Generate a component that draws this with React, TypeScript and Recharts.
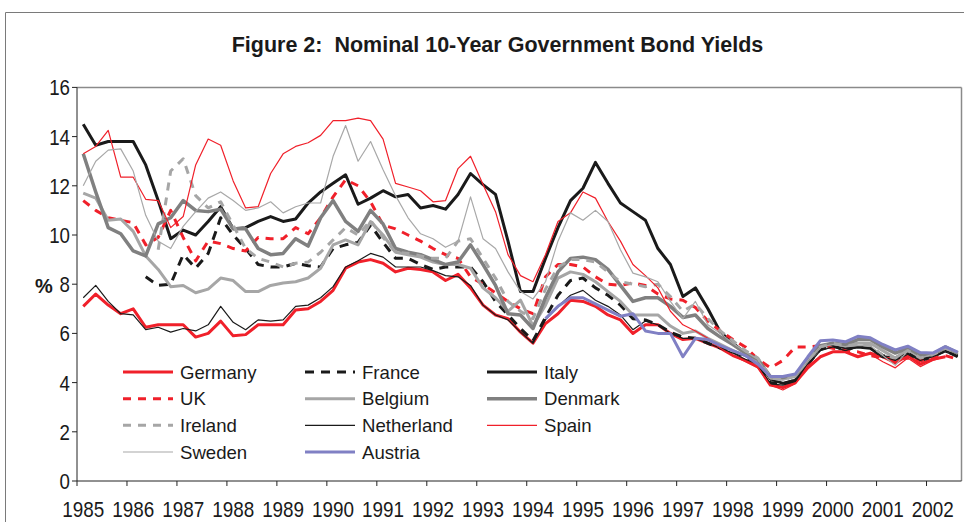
import { LineChart, Line, XAxis, YAxis, ReferenceLine } from 'recharts';

// year labels under the x axis, one per 4 quarters (1985Q1 .. 2002Q3)
const YEARS = ['1985', '1986', '1987', '1988', '1989', '1990', '1991', '1992', '1993', '1994', '1995', '1996', '1997', '1998', '1999', '2000', '2001', '2002'];
const Y_TICKS = [0, 2, 4, 6, 8, 10, 12, 14, 16];

// quarterly yields, %
const germany = [7.1, 7.6, 7.15, 6.8, 7.0, 6.25, 6.35, 6.35, 6.35, 5.85, 6.0, 6.5, 5.9, 5.95, 6.35, 6.35, 6.35, 6.95, 7.0, 7.3, 7.75, 8.65, 8.9, 9.0, 8.85, 8.5, 8.65, 8.6, 8.5, 8.15, 8.4, 7.85, 7.15, 6.75, 6.6, 6.05, 5.6, 6.4, 6.8, 7.35, 7.3, 7.1, 6.75, 6.55, 6.0, 6.35, 6.35, 6.0, 5.75, 5.8, 5.6, 5.4, 5.1, 4.9, 4.65, 3.9, 3.8, 4.0, 4.6, 5.05, 5.25, 5.25, 5.05, 5.2, 5.05, 4.8, 5.1, 4.75, 4.95, 5.05];
const france = [8.3, 7.95, 8.0, 9.2, 8.65, 9.25, 10.7, 10.0, 9.45, 8.8, 8.7, 8.7, 8.85, 8.75, 8.7, 9.45, 9.6, 9.7, 10.4, 9.7, 9.05, 9.05, 8.8, 8.6, 8.7, 8.7, 8.7, 8.1, 7.3, 6.75, 6.2, 5.7, 6.65, 7.55, 8.15, 8.25, 7.85, 7.55, 7.15, 6.6, 6.55, 6.35, 6.05, 5.85, 5.8, 5.6, 5.4, 5.25, 5.05, 4.8, 4.0, 3.95, 4.1, 4.75, 5.35, 5.5, 5.3, 5.5, 5.45, 5.1, 4.95, 5.2, 4.9, 5.05, 5.3, 5.05];
const italy = [14.5, 13.65, 13.8, 13.8, 13.8, 12.85, 11.4, 9.85, 10.2, 10.0, 10.55, 11.15, 10.25, 10.3, 10.55, 10.75, 10.55, 10.65, 11.3, 11.75, 12.1, 12.45, 11.25, 11.5, 11.8, 11.55, 11.65, 11.1, 11.2, 11.05, 11.65, 12.5, 12.05, 11.65, 9.75, 7.7, 7.7, 9.05, 10.3, 11.4, 11.9, 12.95, 12.1, 11.3, 10.95, 10.6, 9.45, 8.8, 7.5, 7.85, 7.0, 6.05, 5.6, 5.2, 4.9, 4.15, 3.97, 4.1, 4.8, 5.45, 5.55, 5.4, 5.45, 5.4, 5.05, 5.0, 5.25, 4.92, 5.1, 5.33, 5.12];
const uk = [11.4, 11.0, 10.7, 10.6, 10.5, 9.6, 9.9, 11.0, 9.9, 8.95, 9.75, 9.65, 9.45, 9.35, 9.9, 9.85, 9.85, 10.3, 10.05, 10.7, 11.55, 12.25, 12.0, 11.35, 10.4, 10.25, 10.0, 9.75, 9.45, 9.2, 9.05, 8.3, 8.0, 7.65, 7.3, 7.0, 6.8, 8.3, 8.8, 8.8, 8.7, 8.3, 8.0, 7.95, 8.05, 7.95, 7.6, 7.4, 7.35, 7.05, 6.5, 6.1, 5.75, 5.45, 4.95, 4.6, 4.9, 5.45, 5.45, 5.5, 5.4, 5.3, 5.25, 5.1, 5.0, 4.95, 5.0, 4.9, 5.0, 5.1, 4.95];
const belgium = [11.7, 11.5, 10.6, 10.65, 10.15, 9.15, 8.6, 7.9, 7.95, 7.65, 7.8, 8.25, 8.15, 7.7, 7.7, 7.95, 8.05, 8.1, 8.25, 8.65, 9.6, 9.8, 9.6, 10.55, 10.0, 9.3, 9.2, 9.1, 8.9, 8.8, 8.8, 8.65, 7.85, 7.45, 6.9, 7.35, 6.3, 7.15, 8.25, 8.5, 8.4, 8.1, 7.7, 7.3, 6.75, 6.75, 6.75, 6.3, 6.0, 6.1, 5.8, 5.55, 5.3, 5.1, 4.85, 4.2, 4.15, 4.25, 4.9, 5.45, 5.6, 5.5, 5.6, 5.6, 5.3, 5.0, 5.35, 5.05, 5.15, 5.4, 5.2];
const denmark = [13.3, 11.75, 10.3, 10.05, 9.35, 9.15, 10.45, 10.7, 11.4, 11.0, 10.95, 11.05, 10.25, 10.25, 9.45, 9.2, 9.25, 9.85, 9.55, 10.7, 11.4, 10.55, 10.15, 11.0, 10.45, 9.45, 9.3, 9.2, 9.0, 8.8, 8.9, 9.6, 8.8, 7.95, 6.8, 6.75, 6.2, 7.45, 8.5, 9.05, 9.1, 9.0, 8.6, 7.95, 7.3, 7.45, 7.45, 7.1, 6.65, 6.75, 6.2, 5.85, 5.55, 5.2, 4.95, 4.25, 4.2, 4.3, 4.95, 5.5, 5.6, 5.55, 5.75, 5.75, 5.45, 5.2, 5.4, 5.1, 5.15, 5.45, 5.2];
const ireland = [9.4, 12.6, 13.1, 11.6, 11.1, 11.35, 10.4, 9.45, 9.05, 8.9, 8.7, 8.85, 8.9, 9.3, 9.8, 10.3, 10.0, 10.6, 9.9, 9.3, 9.25, 9.15, 9.05, 9.05, 9.75, 9.85, 9.05, 8.25, 7.3, 6.9, 6.6, 7.8, 8.7, 9.0, 9.0, 8.9, 8.5, 8.1, 8.0, 7.9, 8.0, 7.5, 6.9, 7.2, 6.6, 6.1, 5.7, 5.3, 5.0, 4.2, 4.1, 4.3, 4.9, 5.45, 5.6, 5.5, 5.55, 5.5, 5.1, 5.0, 5.3, 5.0, 5.1, 5.4, 5.2];
const netherland = [7.45, 7.95, 7.3, 6.8, 6.75, 6.15, 6.25, 6.05, 6.2, 6.1, 6.35, 7.1, 6.45, 6.15, 6.55, 6.5, 6.55, 7.1, 7.15, 7.45, 7.9, 8.7, 8.95, 9.25, 9.1, 8.7, 8.7, 8.7, 8.55, 8.35, 8.3, 7.95, 7.15, 6.75, 6.55, 6.05, 5.6, 6.55, 7.1, 7.55, 7.75, 7.35, 7.1, 6.75, 6.15, 6.5, 6.35, 6.0, 5.8, 5.8, 5.6, 5.4, 5.2, 4.95, 4.75, 3.95, 3.9, 4.05, 4.7, 5.3, 5.45, 5.3, 5.45, 5.4, 5.05, 4.9, 5.15, 4.9, 5.05, 5.25, 5.05];
const spain = [13.3, 13.6, 14.25, 12.35, 12.35, 11.45, 11.4, 10.3, 10.75, 12.85, 13.9, 13.65, 12.2, 11.1, 11.15, 12.5, 13.3, 13.6, 13.75, 14.05, 14.65, 14.65, 14.75, 14.65, 13.9, 12.1, 11.95, 11.8, 11.35, 11.4, 12.7, 13.2, 12.05, 10.95, 9.2, 8.35, 8.1, 9.2, 10.55, 10.9, 11.75, 11.5, 10.55, 9.75, 8.8, 8.35, 7.85, 6.9, 6.35, 6.1, 5.8, 5.4, 5.1, 4.85, 4.6, 3.9, 3.7, 3.95, 4.7, 5.05, 5.25, 5.25, 5.1, 5.15, 4.85, 4.6, 5.0, 4.65, 4.9, 5.05];
const sweden = [12.0, 13.0, 13.45, 13.5, 12.6, 10.8, 9.75, 9.45, 10.35, 10.95, 11.5, 11.75, 11.4, 11.0, 11.1, 11.35, 10.9, 11.15, 11.3, 11.3, 13.2, 14.45, 13.0, 13.8, 12.65, 11.6, 10.7, 10.05, 9.85, 9.5, 9.75, 11.55, 9.85, 9.45, 8.5, 7.7, 7.4, 8.1, 9.75, 10.9, 10.6, 11.0, 10.55, 9.4, 8.45, 8.3, 8.1, 7.3, 6.6, 7.3, 6.35, 6.0, 5.6, 5.25, 4.95, 4.15, 4.1, 4.25, 4.9, 5.45, 5.55, 5.45, 5.5, 5.5, 5.1, 4.7, 5.3, 5.0, 5.15, 5.4, 5.2];
const austria = [6.6, 7.1, 7.45, 7.45, 7.2, 6.95, 6.7, 6.8, 6.1, 6.0, 6.0, 5.05, 5.8, 5.75, 5.5, 5.3, 5.1, 4.75, 4.25, 4.25, 4.35, 5.05, 5.7, 5.73, 5.66, 5.88, 5.82, 5.55, 5.33, 5.48, 5.22, 5.2, 5.46, 5.24];

const RED = '#f0202a';

// start = index of the first quarter the series has data for (0 = 1985Q1)
const SERIES = [
  { name: 'Germany', values: germany, start: 0, color: RED, width: 3, dash: undefined },
  { name: 'France', values: france, start: 5, color: '#1a1a1a', width: 3, dash: '9 7' },
  { name: 'Italy', values: italy, start: 0, color: '#1a1a1a', width: 3, dash: undefined },
  { name: 'UK', values: uk, start: 0, color: RED, width: 3, dash: '8 7' },
  { name: 'Belgium', values: belgium, start: 0, color: '#a6a6a6', width: 3, dash: undefined },
  { name: 'Denmark', values: denmark, start: 0, color: '#808080', width: 3.5, dash: undefined },
  { name: 'Ireland', values: ireland, start: 6, color: '#a6a6a6', width: 3, dash: '8 7' },
  { name: 'Netherland', values: netherland, start: 0, color: '#1a1a1a', width: 1.2, dash: undefined },
  { name: 'Spain', values: spain, start: 0, color: RED, width: 1.2, dash: undefined },
  { name: 'Sweden', values: sweden, start: 0, color: '#a8a8a8', width: 1.2, dash: undefined },
  { name: 'Austria', values: austria, start: 37, color: '#8080c4', width: 3, dash: undefined },
];

const nQuarters = Math.max(...SERIES.map((s) => s.start + s.values.length));
const data = Array.from({ length: nQuarters }, (_, q) => {
  const row: Record<string, number | null> = { q };
  SERIES.forEach((s) => {
    const k = q - s.start;
    row[s.name] = k >= 0 && k < s.values.length ? s.values[k] : null;
  });
  return row;
});

const W = 964;
const H = 522;
const PLOT_LEFT = 77;
const PLOT_RIGHT = 961.5;
const X_DOMAIN: [number, number] = [-0.5, 70.3];
const HALF_Q = (PLOT_RIGHT - PLOT_LEFT) / (X_DOMAIN[1] - X_DOMAIN[0]) / 2;
const FONT = '"Liberation Sans", Arial, Helvetica, sans-serif';
const TEXT = '#1a1a1a';

// tick marks sit between years, label sits on the year's first quarter
const X_TICKS = YEARS.map((_, k) => 4 * k - 0.5);

const YearTick = (props: any) => {
  const { x, y, payload } = props;
  const label = YEARS[Math.round((payload.value + 0.5) / 4)];
  if (!label) return <g />;
  return (
    <text x={x + HALF_Q} y={y + 31} textAnchor='middle' fontSize={22} fontFamily={FONT} fill={TEXT} textLength={42} lengthAdjust='spacingAndGlyphs'>
      {label}
    </text>
  );
};

const ValueTick = (props: any) => {
  const { x, y, payload } = props;
  const label = String(payload.value);
  return (
    <text x={x} y={y + 8} textAnchor='end' fontSize={22} fontFamily={FONT} fill={TEXT} textLength={10.4 * label.length} lengthAdjust='spacingAndGlyphs'>
      {label}
    </text>
  );
};

// legend: 3 columns, filled row by row
const LEG_COLS = [123, 305, 487];
const LEG_ROWS = [372, 398.7, 425.3, 452];

const Overlay = () => (
  <svg width={W} height={H} style={{ position: 'absolute', left: 0, top: 0, pointerEvents: 'none' }}>
    <line x1={5.5} y1={12.5} x2={W} y2={12.5} stroke='#7a7a7a' strokeWidth={1} />
    <line x1={5.5} y1={12.5} x2={5.5} y2={H} stroke='#7a7a7a' strokeWidth={1} />
    <text x={497.5} y={52} textAnchor='middle' fontSize={21.5} fontWeight='bold' fontFamily={FONT} fill={TEXT} xmlSpace='preserve'>
      {'Figure 2:  Nominal 10-Year Government Bond Yields'}
    </text>
    <text x={44} y={293} textAnchor='middle' fontSize={20} fontWeight='bold' fontFamily={FONT} fill={TEXT}>
      %
    </text>
    {SERIES.map((s, idx) => {
      const lx = LEG_COLS[idx % 3];
      const ly = LEG_ROWS[Math.floor(idx / 3)];
      return (
        <g key={s.name}>
          <line x1={lx} y1={ly} x2={lx + 50} y2={ly} stroke={s.color} strokeWidth={s.width} strokeDasharray={s.dash} />
          <text x={lx + 57} y={ly + 6.7} fontSize={18.6} fontFamily={FONT} fill={TEXT}>
            {s.name}
          </text>
        </g>
      );
    })}
  </svg>
);

export default function App() {
  return (
    <div style={{ position: 'absolute', left: 0, top: 0, width: W, height: H, background: '#fff' }}>
      <LineChart width={W} height={H} data={data} margin={{ top: 87.4, right: W - PLOT_RIGHT, bottom: 0, left: 0 }}>
        <XAxis
          dataKey='q'
          type='number'
          domain={X_DOMAIN}
          allowDataOverflow
          ticks={X_TICKS}
          interval={0}
          height={41}
          tickSize={5}
          tickMargin={0}
          tick={(p: any) => <YearTick {...p} />}
          axisLine={{ stroke: '#222', strokeWidth: 1 }}
          tickLine={{ stroke: '#222', strokeWidth: 1 }}
        />
        <YAxis
          type='number'
          domain={[0, 16]}
          ticks={Y_TICKS}
          interval={0}
          width={PLOT_LEFT}
          tickSize={5}
          tickMargin={2}
          tick={(p: any) => <ValueTick {...p} />}
          axisLine={{ stroke: '#222', strokeWidth: 1 }}
          tickLine={{ stroke: '#222', strokeWidth: 1 }}
        />
        <ReferenceLine y={16} stroke='#8a8a8a' strokeWidth={1.5} />
        <ReferenceLine x={X_DOMAIN[1]} stroke='#8a8a8a' strokeWidth={1.5} />
        {SERIES.map((s) => (
          <Line
            key={s.name}
            type='linear'
            dataKey={s.name}
            name={s.name}
            stroke={s.color}
            strokeWidth={s.width}
            strokeDasharray={s.dash}
            strokeLinejoin='round'
            dot={false}
            activeDot={false}
            isAnimationActive={false}
          />
        ))}
      </LineChart>
      <Overlay />
    </div>
  );
}
